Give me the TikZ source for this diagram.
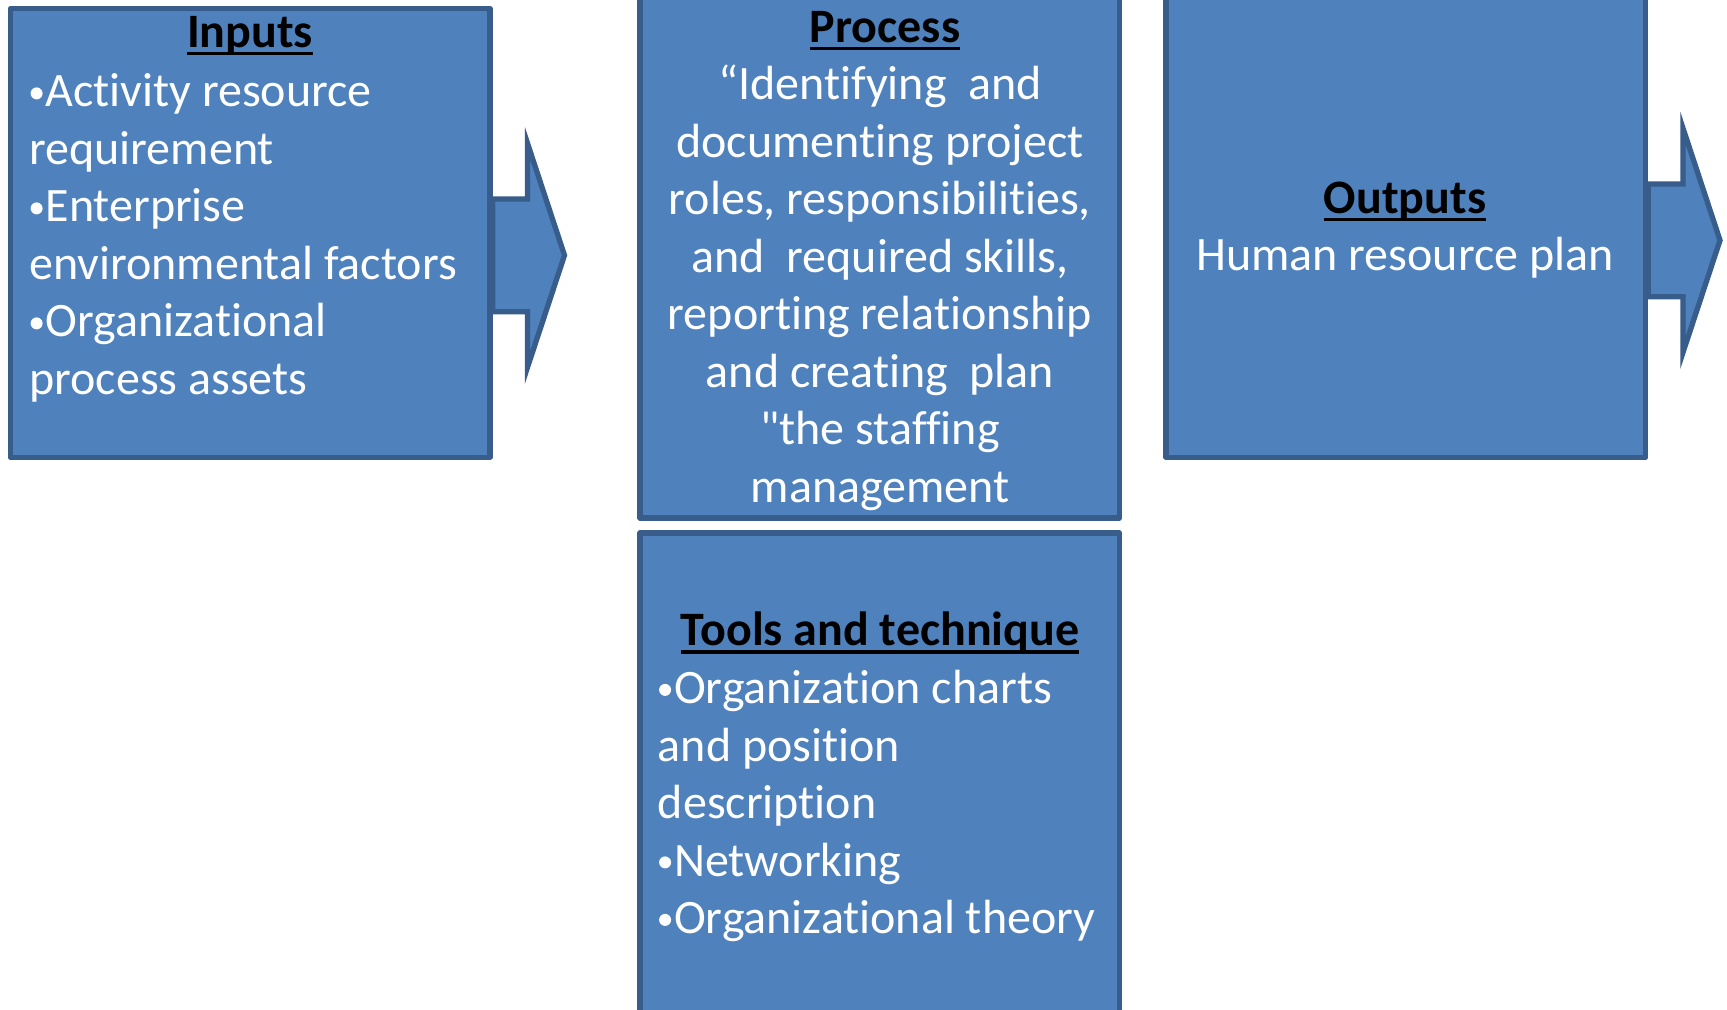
\documentclass[tikz,border=0pt]{standalone}
\usepackage{fontspec}
\setmainfont{Carlito}[Ligatures={NoCommon}]
\usetikzlibrary{backgrounds}
\definecolor{boxfill}{HTML}{4F81BD}
\definecolor{boxline}{HTML}{385D8A}
\newcommand\myul[1]{\setbox0\hbox{#1}\rlap{\rule[-4pt]{\wd0}{1.8pt}}\box0}
\newcommand\bul{\kern0.6pt\tikz[baseline=0pt]\fill[white] (3pt,6.8pt) circle[radius=3pt];\kern1.5pt}
\newcommand\sq{{\XeTeXglyph\XeTeXcharglyph"22}}
\begin{document}
\begin{tikzpicture}[x=0.5pt,y=-0.5pt,
  blockbox/.style={draw=boxline, fill=boxfill, line width=2.65pt, line join=round, inner sep=0pt, minimum width=239.75pt},
  blockarrow/.style={draw=boxline, fill=boxfill, line width=2.65pt, line join=miter},
  titletext/.style={font=\fontsize{24pt}{28.75pt}\selectfont\bfseries, text=black, inner sep=0pt, anchor=base},
  bodytext/.style={font=\fontsize{24pt}{28.75pt}\selectfont, text=white, inner sep=0pt}]
\useasboundingbox (0,0) rectangle (1727,1010);
% boxes
\node[blockbox, minimum height=224.55pt] (inp) at (250.25,233) {};
\node[blockbox, minimum height=274pt] (proc) at (879.75,244) {};
\node[blockbox, minimum height=253.5pt] (tool) at (879.75,786.5) {};
\node[blockbox, minimum height=243.75pt] (outp) at (1405.75,213.75) {};
% block arrows
\begin{pgfonlayer}{background}
\fill[white] (0,0) rectangle (1727,1010);
\draw[blockarrow] (inp.east |- 0,199) -- (527.5,199) -- (527.5,143.3) -- (564.5,255.3)
  -- (527.5,367.3) -- (527.5,311.7) -- (inp.east |- 0,311.7) -- cycle;
\draw[blockarrow] (outp.east |- 0,184) -- (1683,184) -- (1683,128.3) -- (1720,240.3)
  -- (1683,352.3) -- (1683,296.7) -- (outp.east |- 0,296.7) -- cycle;
\end{pgfonlayer}
% texts
\node[titletext] (inpt) at (250,47.5) {\myul{Inputs}};
\node[bodytext, anchor=base west] (inpb) at (29,107) {\begin{tabular}[t]{@{}l@{}}\bul Activity resource\\requirement\\\bul Enterprise\\environmental factors\\\bul Organizational\\process assets\end{tabular}};
\node[titletext] (proct) at (885,42.5) {\myul{Process}};
\node[bodytext, anchor=base] (procb) at (880,100) {\begin{tabular}[t]{@{}c@{}}“Identifying\ \ and\\documenting project\\roles, responsibilities,\\and\ \ required skills,\\reporting relationship\\and creating\ \ plan\\\sq the staffing\\management\end{tabular}};
\node[titletext] (outpt) at (1405,213.5) {\myul{Outputs}};
\node[bodytext, anchor=base] (outpb) at (1405,270.5) {Human resource plan};
\node[titletext] (toolt) at (880,645.5) {\myul{Tools and technique}};
\node[bodytext, anchor=base west] (toolb) at (657.5,703.5) {\begin{tabular}[t]{@{}l@{}}\bul Organization charts\\and position\\description\\\bul Networking\\\bul Organizational theory\end{tabular}};
\end{tikzpicture}
\end{document}
